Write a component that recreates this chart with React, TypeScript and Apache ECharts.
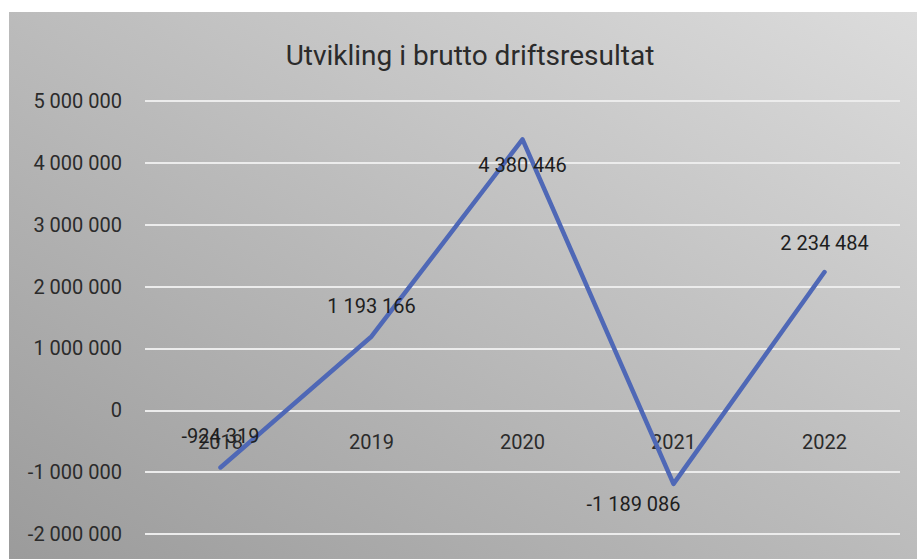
import React, { useEffect, useRef } from "react";
import * as echarts from "echarts";

const title = "Utvikling i brutto driftsresultat";
const categories = ["2018", "2019", "2020", "2021", "2022"];
const values = [-924319, 1193166, 4380446, -1189086, 2234484];
const labelPositions = ["top", "top", "bottom", "bottom", "top"];
const labelDistances = [21, 20, 15, 10, 19];
const labelOffsets = [[0, 0], [0, 0], [0, 0], [-40, 0], [0, 0]];
const yMin = -2000000;
const yMax = 5000000;
const yInterval = 1000000;

const FONT = "Roboto";

const W = 917;
const H = 559;
const GRID_TOP = 101;
const GRID_BOTTOM = 25;
const GRID_H = H - GRID_TOP - GRID_BOTTOM;
// place the category axis where the value axis crosses zero
const ZERO_OFFSET = -(GRID_H * (0 - yMin)) / (yMax - yMin);

function fmt(v: number): string {
  const neg = v < 0;
  const s = Math.abs(Math.round(v)).toString().replace(/\B(?=(\d{3})+(?!\d))/g, " ");
  return (neg ? "-" : "") + s;
}

export default function App() {
  const ref = useRef<HTMLDivElement>(null);
  useEffect(() => {
    if (!ref.current) return;
    const chart = echarts.init(ref.current, undefined, { renderer: "svg" });
    chart.setOption({
      animation: false,
      backgroundColor: "#ffffff",
      graphic: [
        {
          type: "rect",
          z: -10,
          silent: true,
          shape: { x: 9, y: 12, width: W - 9, height: H - 12 },
          style: {
            fill: new echarts.graphic.LinearGradient(0, 1, 1, 0, [
              { offset: 0, color: "#9b9b9b" },
              { offset: 1, color: "#dcdcdc" },
            ]),
          },
        },
      ],
      title: {
        text: title,
        left: 465,
        textAlign: "center",
        top: 36,
        textStyle: { fontFamily: FONT, fontSize: 28, fontWeight: "normal", color: "#2b2b2b" },
      },
      grid: {
        left: 145,
        right: 17,
        top: GRID_TOP,
        bottom: GRID_BOTTOM,
        containLabel: false,
        outerBoundsMode: "none",
      },
      xAxis: {
        type: "category",
        data: categories,
        boundaryGap: true,
        position: "bottom",
        offset: ZERO_OFFSET,
        axisLine: { show: false, onZero: false },
        axisTick: { show: false },
        axisLabel: { fontFamily: FONT, fontSize: 20, color: "#2b2b2b", margin: 22 },
        splitLine: { show: false },
      },
      yAxis: {
        type: "value",
        min: yMin,
        max: yMax,
        interval: yInterval,
        axisLine: { show: false },
        axisTick: { show: false },
        axisLabel: {
          fontFamily: FONT,
          fontSize: 20,
          color: "#2b2b2b",
          margin: 23,
          formatter: (v: number) => fmt(v),
        },
        splitLine: { show: true, lineStyle: { color: "#ececec", width: 2 } },
      },
      series: [
        {
          type: "line",
          data: values.map((v, i) => ({
            value: v,
            label: {
              position: labelPositions[i],
              distance: labelDistances[i],
              offset: labelOffsets[i],
            },
          })),
          symbol: "circle",
          symbolSize: 1,
          showSymbol: true,
          itemStyle: { color: "rgba(0,0,0,0)" },
          lineStyle: { color: "#4f68b6", width: 4.5, join: "round", cap: "round" },
          label: {
            show: true,
            fontFamily: FONT,
            fontSize: 20,
            color: "#1e1e1e",
            formatter: (p: any) => fmt(p.value),
          },
          z: 5,
        },
      ],
    });
    return () => chart.dispose();
  }, []);
  return (
    <div
      ref={ref}
      style={{ position: "fixed", left: 0, top: 0, width: W, height: H }}
    />
  );
}
